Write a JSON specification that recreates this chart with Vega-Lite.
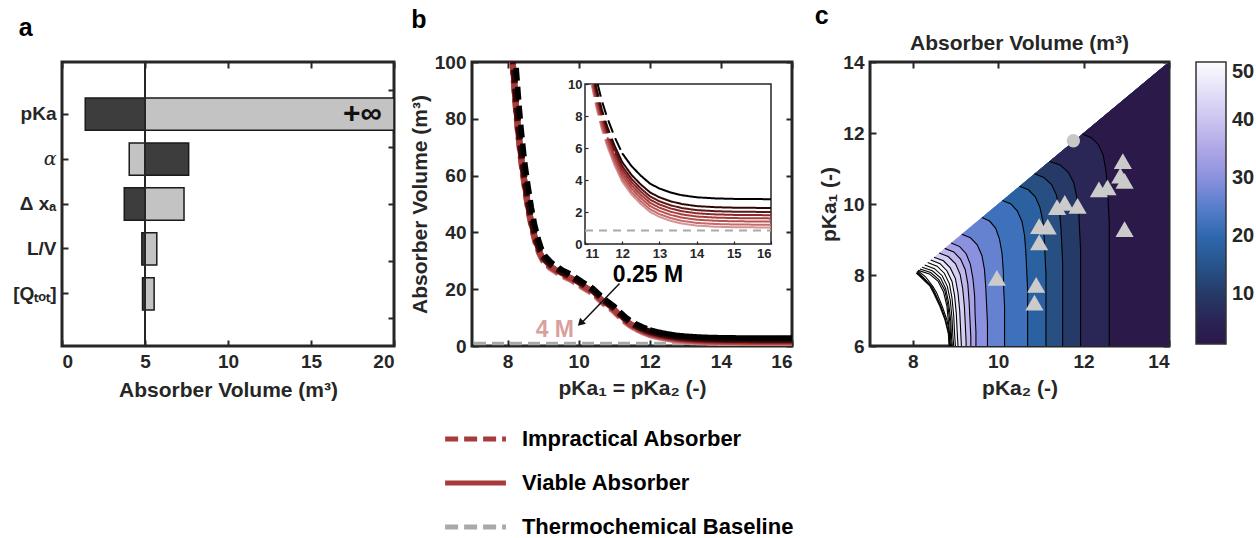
{
 "$schema": "https://vega.github.io/schema/vega-lite/v6.json",
 "background": "white",
 "padding": {"left": 11, "top": 2, "right": 0, "bottom": 0},
 "spacing": 78,
 "bounds": "flush",
 "datasets": {
  "bars": [
   {"p":"pKa","lo":1.4,"hi":5,"s":"d"},{"p":"pKa","lo":5,"hi":20,"s":"l"},
   {"p":"α","lo":4.05,"hi":5,"s":"l"},{"p":"α","lo":5,"hi":7.63,"s":"d"},
   {"p":"Δ xₐ","lo":3.75,"hi":5,"s":"d"},{"p":"Δ xₐ","lo":5,"hi":7.35,"s":"l"},
   {"p":"L/V","lo":4.81,"hi":5,"s":"d"},{"p":"L/V","lo":5,"hi":5.71,"s":"l"},
   {"p":"[Qₜₒₜ]","lo":4.85,"hi":5,"s":"d"},{"p":"[Qₜₒₜ]","lo":5,"hi":5.55,"s":"l"}
  ],
  "leg": [
   {"lab": "Impractical Absorber", "t": "i", "c": "r"},
   {"lab": "Viable Absorber", "t": "v", "c": "r"},
   {"lab": "Thermochemical Baseline", "t": "i", "c": "g"}
  ],
  "cv": [
   {"k":1,"x":8.14,"v":100,"s":"i"},{"k":1,"x":8.2,"v":90,"s":"i"},{"k":1,"x":8.25,"v":82,"s":"i"},{"k":1,"x":8.3,"v":75,"s":"i"},{"k":1,"x":8.4,"v":64,"s":"i"},{"k":1,"x":8.5,"v":55,"s":"i"},{"k":1,"x":8.6,"v":47,"s":"i"},{"k":1,"x":8.7,"v":41,"s":"i"},{"k":1,"x":8.8,"v":36,"s":"i"},{"k":1,"x":8.9,"v":32.5,"s":"i"},{"k":1,"x":9.0,"v":30,"s":"i"},{"k":1,"x":9.2,"v":27.5,"s":"i"},{"k":1,"x":9.5,"v":25,"s":"i"},{"k":1,"x":9.8,"v":23.2,"s":"i"},{"k":1,"x":10.1,"v":20.8,"s":"i"},{"k":1,"x":10.4,"v":18.5,"s":"i"},{"k":1,"x":10.7,"v":15,"s":"i"},{"k":1,"x":11.0,"v":12.2,"s":"i"},{"k":1,"x":11.15,"v":10.3,"s":"i"},{"k":1,"x":11.176,"v":10,"s":"i"},{"k":1,"x":11.3,"v":8.6,"s":"i"},{"k":1,"x":11.45,"v":7.2,"s":"i"},{"k":1,"x":11.6,"v":6.1,"s":"i"},
   {"k":1,"x":11.6,"v":6.1,"s":"v"},{"k":1,"x":11.8,"v":4.9,"s":"v"},{"k":1,"x":12.0,"v":3.9,"s":"v"},{"k":1,"x":12.25,"v":3.1,"s":"v"},{"k":1,"x":12.5,"v":2.5,"s":"v"},{"k":1,"x":12.75,"v":2.0,"s":"v"},{"k":1,"x":13.0,"v":1.7,"s":"v"},{"k":1,"x":13.3,"v":1.45,"s":"v"},{"k":1,"x":13.6,"v":1.28,"s":"v"},{"k":1,"x":14.0,"v":1.15,"s":"v"},{"k":1,"x":14.5,"v":1.08,"s":"v"},{"k":1,"x":15.0,"v":1.05,"s":"v"},{"k":1,"x":16.0,"v":1.03,"s":"v"},

   {"k":2,"x":8.14,"v":100.2,"s":"i"},{"k":2,"x":8.2,"v":90.2,"s":"i"},{"k":2,"x":8.25,"v":82.2,"s":"i"},{"k":2,"x":8.3,"v":75.2,"s":"i"},{"k":2,"x":8.4,"v":64.2,"s":"i"},{"k":2,"x":8.5,"v":55.2,"s":"i"},{"k":2,"x":8.6,"v":47.2,"s":"i"},{"k":2,"x":8.7,"v":41.2,"s":"i"},{"k":2,"x":8.8,"v":36.2,"s":"i"},{"k":2,"x":8.9,"v":32.7,"s":"i"},{"k":2,"x":9.0,"v":30.2,"s":"i"},{"k":2,"x":9.2,"v":27.7,"s":"i"},{"k":2,"x":9.5,"v":25.2,"s":"i"},{"k":2,"x":9.8,"v":23.4,"s":"i"},{"k":2,"x":10.1,"v":21.0,"s":"i"},{"k":2,"x":10.4,"v":18.7,"s":"i"},{"k":2,"x":10.7,"v":15.2,"s":"i"},{"k":2,"x":11.0,"v":12.4,"s":"i"},{"k":2,"x":11.15,"v":10.5,"s":"i"},{"k":2,"x":11.191,"v":10,"s":"i"},{"k":2,"x":11.3,"v":8.77,"s":"i"},{"k":2,"x":11.45,"v":7.37,"s":"i"},{"k":2,"x":11.6,"v":6.27,"s":"i"},
   {"k":2,"x":11.6,"v":6.27,"s":"v"},{"k":2,"x":11.8,"v":5.07,"s":"v"},{"k":2,"x":12.0,"v":4.07,"s":"v"},{"k":2,"x":12.25,"v":3.27,"s":"v"},{"k":2,"x":12.5,"v":2.67,"s":"v"},{"k":2,"x":12.75,"v":2.17,"s":"v"},{"k":2,"x":13.0,"v":1.87,"s":"v"},{"k":2,"x":13.3,"v":1.62,"s":"v"},{"k":2,"x":13.6,"v":1.45,"s":"v"},{"k":2,"x":14.0,"v":1.32,"s":"v"},{"k":2,"x":14.5,"v":1.25,"s":"v"},{"k":2,"x":15.0,"v":1.22,"s":"v"},{"k":2,"x":16.0,"v":1.2,"s":"v"},

   {"k":3,"x":8.14,"v":100.4,"s":"i"},{"k":3,"x":8.2,"v":90.4,"s":"i"},{"k":3,"x":8.25,"v":82.4,"s":"i"},{"k":3,"x":8.3,"v":75.4,"s":"i"},{"k":3,"x":8.4,"v":64.4,"s":"i"},{"k":3,"x":8.5,"v":55.4,"s":"i"},{"k":3,"x":8.6,"v":47.4,"s":"i"},{"k":3,"x":8.7,"v":41.4,"s":"i"},{"k":3,"x":8.8,"v":36.4,"s":"i"},{"k":3,"x":8.9,"v":32.9,"s":"i"},{"k":3,"x":9.0,"v":30.4,"s":"i"},{"k":3,"x":9.2,"v":27.9,"s":"i"},{"k":3,"x":9.5,"v":25.4,"s":"i"},{"k":3,"x":9.8,"v":23.6,"s":"i"},{"k":3,"x":10.1,"v":21.2,"s":"i"},{"k":3,"x":10.4,"v":18.9,"s":"i"},{"k":3,"x":10.7,"v":15.4,"s":"i"},{"k":3,"x":11.0,"v":12.6,"s":"i"},{"k":3,"x":11.15,"v":10.7,"s":"i"},{"k":3,"x":11.209,"v":10,"s":"i"},{"k":3,"x":11.3,"v":8.97,"s":"i"},{"k":3,"x":11.45,"v":7.57,"s":"i"},{"k":3,"x":11.6,"v":6.47,"s":"i"},
   {"k":3,"x":11.6,"v":6.47,"s":"v"},{"k":3,"x":11.8,"v":5.27,"s":"v"},{"k":3,"x":12.0,"v":4.27,"s":"v"},{"k":3,"x":12.25,"v":3.47,"s":"v"},{"k":3,"x":12.5,"v":2.87,"s":"v"},{"k":3,"x":12.75,"v":2.37,"s":"v"},{"k":3,"x":13.0,"v":2.07,"s":"v"},{"k":3,"x":13.3,"v":1.82,"s":"v"},{"k":3,"x":13.6,"v":1.65,"s":"v"},{"k":3,"x":14.0,"v":1.52,"s":"v"},{"k":3,"x":14.5,"v":1.45,"s":"v"},{"k":3,"x":15.0,"v":1.42,"s":"v"},{"k":3,"x":16.0,"v":1.4,"s":"v"},

   {"k":4,"x":8.14,"v":100.6,"s":"i"},{"k":4,"x":8.2,"v":90.6,"s":"i"},{"k":4,"x":8.25,"v":82.6,"s":"i"},{"k":4,"x":8.3,"v":75.6,"s":"i"},{"k":4,"x":8.4,"v":64.6,"s":"i"},{"k":4,"x":8.5,"v":55.6,"s":"i"},{"k":4,"x":8.6,"v":47.6,"s":"i"},{"k":4,"x":8.7,"v":41.6,"s":"i"},{"k":4,"x":8.8,"v":36.6,"s":"i"},{"k":4,"x":8.9,"v":33.1,"s":"i"},{"k":4,"x":9.0,"v":30.6,"s":"i"},{"k":4,"x":9.2,"v":28.1,"s":"i"},{"k":4,"x":9.5,"v":25.6,"s":"i"},{"k":4,"x":9.8,"v":23.8,"s":"i"},{"k":4,"x":10.1,"v":21.4,"s":"i"},{"k":4,"x":10.4,"v":19.1,"s":"i"},{"k":4,"x":10.7,"v":15.6,"s":"i"},{"k":4,"x":11.0,"v":12.8,"s":"i"},{"k":4,"x":11.15,"v":10.9,"s":"i"},{"k":4,"x":11.227,"v":10,"s":"i"},{"k":4,"x":11.3,"v":9.17,"s":"i"},{"k":4,"x":11.45,"v":7.77,"s":"i"},{"k":4,"x":11.6,"v":6.67,"s":"i"},
   {"k":4,"x":11.6,"v":6.67,"s":"v"},{"k":4,"x":11.8,"v":5.47,"s":"v"},{"k":4,"x":12.0,"v":4.47,"s":"v"},{"k":4,"x":12.25,"v":3.67,"s":"v"},{"k":4,"x":12.5,"v":3.07,"s":"v"},{"k":4,"x":12.75,"v":2.57,"s":"v"},{"k":4,"x":13.0,"v":2.27,"s":"v"},{"k":4,"x":13.3,"v":2.02,"s":"v"},{"k":4,"x":13.6,"v":1.85,"s":"v"},{"k":4,"x":14.0,"v":1.72,"s":"v"},{"k":4,"x":14.5,"v":1.65,"s":"v"},{"k":4,"x":15.0,"v":1.62,"s":"v"},{"k":4,"x":16.0,"v":1.6,"s":"v"},

   {"k":5,"x":8.14,"v":100.8,"s":"i"},{"k":5,"x":8.2,"v":90.8,"s":"i"},{"k":5,"x":8.25,"v":82.8,"s":"i"},{"k":5,"x":8.3,"v":75.8,"s":"i"},{"k":5,"x":8.4,"v":64.8,"s":"i"},{"k":5,"x":8.5,"v":55.8,"s":"i"},{"k":5,"x":8.6,"v":47.8,"s":"i"},{"k":5,"x":8.7,"v":41.8,"s":"i"},{"k":5,"x":8.8,"v":36.8,"s":"i"},{"k":5,"x":8.9,"v":33.3,"s":"i"},{"k":5,"x":9.0,"v":30.8,"s":"i"},{"k":5,"x":9.2,"v":28.3,"s":"i"},{"k":5,"x":9.5,"v":25.8,"s":"i"},{"k":5,"x":9.8,"v":24.0,"s":"i"},{"k":5,"x":10.1,"v":21.6,"s":"i"},{"k":5,"x":10.4,"v":19.3,"s":"i"},{"k":5,"x":10.7,"v":15.8,"s":"i"},{"k":5,"x":11.0,"v":13.0,"s":"i"},{"k":5,"x":11.15,"v":11.1,"s":"i"},{"k":5,"x":11.244,"v":10,"s":"i"},{"k":5,"x":11.3,"v":9.37,"s":"i"},{"k":5,"x":11.45,"v":7.97,"s":"i"},{"k":5,"x":11.6,"v":6.87,"s":"i"},{"k":5,"x":11.8,"v":5.67,"s":"i"},
   {"k":5,"x":11.8,"v":5.67,"s":"v"},{"k":5,"x":12.0,"v":4.67,"s":"v"},{"k":5,"x":12.25,"v":3.87,"s":"v"},{"k":5,"x":12.5,"v":3.27,"s":"v"},{"k":5,"x":12.75,"v":2.77,"s":"v"},{"k":5,"x":13.0,"v":2.47,"s":"v"},{"k":5,"x":13.3,"v":2.22,"s":"v"},{"k":5,"x":13.6,"v":2.05,"s":"v"},{"k":5,"x":14.0,"v":1.92,"s":"v"},{"k":5,"x":14.5,"v":1.85,"s":"v"},{"k":5,"x":15.0,"v":1.82,"s":"v"},{"k":5,"x":16.0,"v":1.8,"s":"v"},

   {"k":6,"x":8.14,"v":101,"s":"i"},{"k":6,"x":8.2,"v":91,"s":"i"},{"k":6,"x":8.25,"v":83,"s":"i"},{"k":6,"x":8.3,"v":76,"s":"i"},{"k":6,"x":8.4,"v":65,"s":"i"},{"k":6,"x":8.5,"v":56,"s":"i"},{"k":6,"x":8.6,"v":48,"s":"i"},{"k":6,"x":8.7,"v":42,"s":"i"},{"k":6,"x":8.8,"v":37,"s":"i"},{"k":6,"x":8.9,"v":33.5,"s":"i"},{"k":6,"x":9.0,"v":31,"s":"i"},{"k":6,"x":9.2,"v":28.5,"s":"i"},{"k":6,"x":9.5,"v":26,"s":"i"},{"k":6,"x":9.8,"v":24.2,"s":"i"},{"k":6,"x":10.1,"v":21.8,"s":"i"},{"k":6,"x":10.4,"v":19.5,"s":"i"},{"k":6,"x":10.7,"v":16,"s":"i"},{"k":6,"x":11.0,"v":13.2,"s":"i"},{"k":6,"x":11.15,"v":11.3,"s":"i"},{"k":6,"x":11.262,"v":10,"s":"i"},{"k":6,"x":11.3,"v":9.57,"s":"i"},{"k":6,"x":11.45,"v":8.17,"s":"i"},{"k":6,"x":11.6,"v":7.07,"s":"i"},{"k":6,"x":11.8,"v":5.87,"s":"i"},
   {"k":6,"x":11.8,"v":5.87,"s":"v"},{"k":6,"x":12.0,"v":4.87,"s":"v"},{"k":6,"x":12.25,"v":4.07,"s":"v"},{"k":6,"x":12.5,"v":3.47,"s":"v"},{"k":6,"x":12.75,"v":2.97,"s":"v"},{"k":6,"x":13.0,"v":2.67,"s":"v"},{"k":6,"x":13.3,"v":2.42,"s":"v"},{"k":6,"x":13.6,"v":2.25,"s":"v"},{"k":6,"x":14.0,"v":2.12,"s":"v"},{"k":6,"x":14.5,"v":2.05,"s":"v"},{"k":6,"x":15.0,"v":2.02,"s":"v"},{"k":6,"x":16.0,"v":2.0,"s":"v"},

   {"k":7,"x":8.16,"v":101.2,"s":"i"},{"k":7,"x":8.22,"v":91.2,"s":"i"},{"k":7,"x":8.27,"v":83.2,"s":"i"},{"k":7,"x":8.32,"v":76.2,"s":"i"},{"k":7,"x":8.42,"v":65.2,"s":"i"},{"k":7,"x":8.52,"v":56.2,"s":"i"},{"k":7,"x":8.62,"v":48.2,"s":"i"},{"k":7,"x":8.72,"v":42.2,"s":"i"},{"k":7,"x":8.82,"v":37.2,"s":"i"},{"k":7,"x":8.92,"v":33.7,"s":"i"},{"k":7,"x":9.02,"v":31.2,"s":"i"},{"k":7,"x":9.22,"v":28.7,"s":"i"},{"k":7,"x":9.51,"v":26.2,"s":"i"},{"k":7,"x":9.8,"v":24.4,"s":"i"},{"k":7,"x":10.1,"v":22.0,"s":"i"},{"k":7,"x":10.4,"v":19.7,"s":"i"},{"k":7,"x":10.7,"v":16.2,"s":"i"},{"k":7,"x":11.0,"v":13.4,"s":"i"},{"k":7,"x":11.15,"v":11.5,"s":"i"},{"k":7,"x":11.284,"v":10,"s":"i"},{"k":7,"x":11.3,"v":9.82,"s":"i"},{"k":7,"x":11.45,"v":8.42,"s":"i"},{"k":7,"x":11.6,"v":7.32,"s":"i"},{"k":7,"x":11.8,"v":6.12,"s":"i"},
   {"k":7,"x":11.8,"v":6.12,"s":"v"},{"k":7,"x":12.0,"v":5.12,"s":"v"},{"k":7,"x":12.25,"v":4.32,"s":"v"},{"k":7,"x":12.5,"v":3.72,"s":"v"},{"k":7,"x":12.75,"v":3.22,"s":"v"},{"k":7,"x":13.0,"v":2.92,"s":"v"},{"k":7,"x":13.3,"v":2.67,"s":"v"},{"k":7,"x":13.6,"v":2.5,"s":"v"},{"k":7,"x":14.0,"v":2.37,"s":"v"},{"k":7,"x":14.5,"v":2.3,"s":"v"},{"k":7,"x":15.0,"v":2.27,"s":"v"},{"k":7,"x":16.0,"v":2.25,"s":"v"},

   {"k":8,"x":8.22,"v":101.8,"s":"i"},{"k":8,"x":8.28,"v":91.8,"s":"i"},{"k":8,"x":8.33,"v":83.8,"s":"i"},{"k":8,"x":8.38,"v":76.8,"s":"i"},{"k":8,"x":8.47,"v":65.8,"s":"i"},{"k":8,"x":8.57,"v":56.8,"s":"i"},{"k":8,"x":8.67,"v":48.8,"s":"i"},{"k":8,"x":8.76,"v":42.8,"s":"i"},{"k":8,"x":8.86,"v":37.8,"s":"i"},{"k":8,"x":8.95,"v":34.3,"s":"i"},{"k":8,"x":9.05,"v":31.8,"s":"i"},{"k":8,"x":9.24,"v":29.3,"s":"i"},{"k":8,"x":9.53,"v":26.8,"s":"i"},{"k":8,"x":9.82,"v":25.0,"s":"i"},{"k":8,"x":10.1,"v":22.6,"s":"i"},{"k":8,"x":10.4,"v":20.3,"s":"i"},{"k":8,"x":10.7,"v":16.8,"s":"i"},{"k":8,"x":11.0,"v":14.0,"s":"i"},{"k":8,"x":11.15,"v":12.1,"s":"i"},{"k":8,"x":11.3,"v":10.37,"s":"i"},{"k":8,"x":11.34,"v":10,"s":"i"},{"k":8,"x":11.45,"v":8.97,"s":"i"},{"k":8,"x":11.6,"v":7.87,"s":"i"},{"k":8,"x":11.8,"v":6.67,"s":"i"},{"k":8,"x":12.0,"v":5.67,"s":"i"},
   {"k":8,"x":12.0,"v":5.67,"s":"v"},{"k":8,"x":12.25,"v":4.87,"s":"v"},{"k":8,"x":12.5,"v":4.27,"s":"v"},{"k":8,"x":12.75,"v":3.77,"s":"v"},{"k":8,"x":13.0,"v":3.47,"s":"v"},{"k":8,"x":13.3,"v":3.22,"s":"v"},{"k":8,"x":13.6,"v":3.05,"s":"v"},{"k":8,"x":14.0,"v":2.92,"s":"v"},{"k":8,"x":14.5,"v":2.85,"s":"v"},{"k":8,"x":15.0,"v":2.82,"s":"v"},{"k":8,"x":16.0,"v":2.8,"s":"v"}
  ],
  "bd": [
   {"x":8.84,"y":6},{"x":8.82,"y":6.36},{"x":8.74,"y":6.74},{"x":8.62,"y":7.12},{"x":8.47,"y":7.5},{"x":8.39,"y":7.68},{"x":8.2,"y":7.9},{"x":8.07,"y":8.05},{"x":14,"y":14}
  ],
  "ct": [
   {"v":74,"x":8.86,"y":6},{"v":74,"x":8.84,"y":6.36},{"v":74,"x":8.77,"y":6.74},{"v":74,"x":8.66,"y":7.12},{"v":74,"x":8.52,"y":7.5},{"v":74,"x":8.44,"y":7.68},{"v":74,"x":8.26,"y":7.92},{"v":74,"x":8.1,"y":8.1},{"v":74,"x":14,"y":14,"e":1},
   {"v":70,"x":8.87,"y":6},{"v":70,"x":8.86,"y":6.36},{"v":70,"x":8.80,"y":6.74},{"v":70,"x":8.69,"y":7.12},{"v":70,"x":8.56,"y":7.5},{"v":70,"x":8.47,"y":7.68},{"v":70,"x":8.3,"y":7.95},{"v":70,"x":8.12,"y":8.12},{"v":70,"x":14,"y":14,"e":1},
   {"v":66,"x":8.89,"y":6},{"v":66,"x":8.87,"y":6.13},{"v":66,"x":8.84,"y":6.63},{"v":66,"x":8.80,"y":7.13},{"v":66,"x":8.72,"y":7.53},{"v":66,"x":8.59,"y":7.83},{"v":66,"x":8.39,"y":8.03},{"v":66,"x":8.13,"y":8.13},{"v":66,"x":14,"y":14,"e":1},
   {"v":62,"x":8.91,"y":6},{"v":62,"x":8.89,"y":6.17},{"v":62,"x":8.87,"y":6.67},{"v":62,"x":8.82,"y":7.17},{"v":62,"x":8.75,"y":7.57},{"v":62,"x":8.61,"y":7.87},{"v":62,"x":8.42,"y":8.07},{"v":62,"x":8.17,"y":8.17},{"v":62,"x":14,"y":14,"e":1},
   {"v":58,"x":8.93,"y":6},{"v":58,"x":8.91,"y":6.22},{"v":58,"x":8.89,"y":6.72},{"v":58,"x":8.84,"y":7.22},{"v":58,"x":8.77,"y":7.62},{"v":58,"x":8.65,"y":7.92},{"v":58,"x":8.46,"y":8.12},{"v":58,"x":8.22,"y":8.22},{"v":58,"x":14,"y":14,"e":1},
   {"v":54,"x":8.96,"y":6},{"v":54,"x":8.94,"y":6.28},{"v":54,"x":8.92,"y":6.78},{"v":54,"x":8.88,"y":7.28},{"v":54,"x":8.81,"y":7.68},{"v":54,"x":8.69,"y":7.98},{"v":54,"x":8.51,"y":8.18},{"v":54,"x":8.28,"y":8.28},{"v":54,"x":14,"y":14,"e":1},
   {"v":50,"x":9.0,"y":6},{"v":50,"x":8.98,"y":6.35},{"v":50,"x":8.96,"y":6.85},{"v":50,"x":8.92,"y":7.35},{"v":50,"x":8.86,"y":7.75},{"v":50,"x":8.74,"y":8.05},{"v":50,"x":8.57,"y":8.25},{"v":50,"x":8.35,"y":8.35},{"v":50,"x":14,"y":14,"e":1},
   {"v":46,"x":9.06,"y":6},{"v":46,"x":9.04,"y":6.42},{"v":46,"x":9.02,"y":6.92},{"v":46,"x":8.98,"y":7.42},{"v":46,"x":8.92,"y":7.82},{"v":46,"x":8.80,"y":8.12},{"v":46,"x":8.64,"y":8.32},{"v":46,"x":8.42,"y":8.42},{"v":46,"x":14,"y":14,"e":1},
   {"v":42,"x":9.14,"y":6},{"v":42,"x":9.12,"y":6.5},{"v":42,"x":9.10,"y":7.0},{"v":42,"x":9.06,"y":7.5},{"v":42,"x":9.0,"y":7.9},{"v":42,"x":8.88,"y":8.2},{"v":42,"x":8.72,"y":8.4},{"v":42,"x":8.5,"y":8.5},{"v":42,"x":14,"y":14,"e":1},
   {"v":38,"x":9.25,"y":6},{"v":38,"x":9.25,"y":6.12},{"v":38,"x":9.23,"y":6.62},{"v":38,"x":9.21,"y":7.12},{"v":38,"x":9.17,"y":7.62},{"v":38,"x":9.11,"y":8.02},{"v":38,"x":9.0,"y":8.32},{"v":38,"x":8.83,"y":8.52},{"v":38,"x":8.62,"y":8.62},{"v":38,"x":14,"y":14,"e":1},
   {"v":34,"x":9.36,"y":6},{"v":34,"x":9.36,"y":6.25},{"v":34,"x":9.34,"y":6.75},{"v":34,"x":9.32,"y":7.25},{"v":34,"x":9.29,"y":7.75},{"v":34,"x":9.23,"y":8.15},{"v":34,"x":9.12,"y":8.45},{"v":34,"x":8.96,"y":8.65},{"v":34,"x":8.75,"y":8.75},{"v":34,"x":14,"y":14,"e":1},
   {"v":30,"x":9.48,"y":6},{"v":30,"x":9.48,"y":6.4},{"v":30,"x":9.46,"y":6.9},{"v":30,"x":9.45,"y":7.4},{"v":30,"x":9.41,"y":7.9},{"v":30,"x":9.35,"y":8.3},{"v":30,"x":9.25,"y":8.6},{"v":30,"x":9.10,"y":8.8},{"v":30,"x":8.9,"y":8.9},{"v":30,"x":14,"y":14,"e":1},
   {"v":26,"x":9.75,"y":6},{"v":26,"x":9.75,"y":6.65},{"v":26,"x":9.73,"y":7.15},{"v":26,"x":9.71,"y":7.65},{"v":26,"x":9.68,"y":8.15},{"v":26,"x":9.62,"y":8.55},{"v":26,"x":9.51,"y":8.85},{"v":26,"x":9.35,"y":9.05},{"v":26,"x":9.15,"y":9.15},{"v":26,"x":14,"y":14,"e":1},
   {"v":22,"x":10.15,"y":6},{"v":22,"x":10.15,"y":7.12},{"v":22,"x":10.13,"y":7.62},{"v":22,"x":10.12,"y":8.12},{"v":22,"x":10.09,"y":8.62},{"v":22,"x":10.03,"y":9.02},{"v":22,"x":9.94,"y":9.32},{"v":22,"x":9.80,"y":9.52},{"v":22,"x":9.62,"y":9.62},{"v":22,"x":14,"y":14,"e":1},
   {"v":18,"x":10.69,"y":6},{"v":18,"x":10.69,"y":7.6},{"v":18,"x":10.67,"y":8.1},{"v":18,"x":10.65,"y":8.6},{"v":18,"x":10.62,"y":9.1},{"v":18,"x":10.56,"y":9.5},{"v":18,"x":10.45,"y":9.8},{"v":18,"x":10.30,"y":10.0},{"v":18,"x":10.1,"y":10.1},{"v":18,"x":14,"y":14,"e":1},
   {"v":14,"x":11.12,"y":6},{"v":14,"x":11.12,"y":8.0},{"v":14,"x":11.10,"y":8.5},{"v":14,"x":11.08,"y":9.0},{"v":14,"x":11.05,"y":9.5},{"v":14,"x":10.98,"y":9.9},{"v":14,"x":10.87,"y":10.2},{"v":14,"x":10.71,"y":10.4},{"v":14,"x":10.5,"y":10.5},{"v":14,"x":14,"y":14,"e":1},
   {"v":10,"x":11.51,"y":6},{"v":10,"x":11.51,"y":8.35},{"v":10,"x":11.49,"y":8.85},{"v":10,"x":11.47,"y":9.35},{"v":10,"x":11.43,"y":9.85},{"v":10,"x":11.365,"y":10.25},{"v":10,"x":11.25,"y":10.55},{"v":10,"x":11.07,"y":10.75},{"v":10,"x":10.85,"y":10.85},{"v":10,"x":14,"y":14,"e":1},
   {"v":6,"x":11.93,"y":6},{"v":6,"x":11.93,"y":8.7},{"v":6,"x":11.91,"y":9.2},{"v":6,"x":11.89,"y":9.7},{"v":6,"x":11.84,"y":10.2},{"v":6,"x":11.77,"y":10.6},{"v":6,"x":11.64,"y":10.9},{"v":6,"x":11.45,"y":11.1},{"v":6,"x":11.2,"y":11.2},{"v":6,"x":14,"y":14,"e":1},
   {"v":2,"x":12.6,"y":6},{"v":2,"x":12.6,"y":9.47},{"v":2,"x":12.58,"y":9.97},{"v":2,"x":12.56,"y":10.47},{"v":2,"x":12.52,"y":10.97},{"v":2,"x":12.46,"y":11.37},{"v":2,"x":12.35,"y":11.67},{"v":2,"x":12.18,"y":11.87},{"v":2,"x":11.97,"y":11.97},{"v":2,"x":14,"y":14,"e":1}
  ],
  "pts": [
   {"x":9.97,"y":7.92,"m":"t"},{"x":10.89,"y":7.72,"m":"t"},{"x":10.85,"y":7.22,"m":"t"},{"x":10.96,"y":8.92,"m":"t"},{"x":10.96,"y":9.38,"m":"t"},
   {"x":11.16,"y":9.36,"m":"t"},{"x":11.38,"y":9.91,"m":"t"},{"x":11.56,"y":10.03,"m":"t"},{"x":11.86,"y":9.95,"m":"t"},{"x":12.36,"y":10.41,"m":"t"},
   {"x":12.56,"y":10.47,"m":"t"},{"x":12.92,"y":11.21,"m":"t"},{"x":12.86,"y":10.8,"m":"t"},{"x":12.96,"y":10.65,"m":"t"},{"x":12.96,"y":9.29,"m":"t"},
   {"x":11.76,"y":11.78,"m":"c"}
  ]
 },
 "hconcat": [
  {
   "width": 332, "height": 284,
   "title": {"text": "a", "offset": 20, "dx": 6},
   "layer": [
    {
     "data": {"name": "bars"},
     "layer": [
      {
       "transform": [{"filter": "datum.s === 'd'"}],
       "mark": {"type": "bar", "fill": "#3d3d3d", "stroke": "#1a1a1a", "strokeWidth": 1.5},
       "encoding": {
        "y": {"field": "p", "type": "nominal",
              "scale": {"domain": ["pKa","α","Δ xₐ","L/V","[Qₜₒₜ]"], "paddingInner": 0.28, "paddingOuter": 0.8},
              "axis": {"title": null,
                       "labelFont": {"condition": {"test": "datum.value === 'α'", "value": "DejaVu Serif"}, "value": "Liberation Sans"},
                       "labelFontStyle": {"condition": {"test": "datum.value === 'α'", "value": "italic"}, "value": "normal"},
                       "labelFontWeight": {"condition": {"test": "datum.value === 'α'", "value": "normal"}, "value": "bold"}}},
        "x": {"field": "lo", "type": "quantitative", "scale": {"domain": [0, 20], "nice": false},
              "axis": {"values": [0,5,10,15,20], "title": "Absorber Volume (m³)", "titlePadding": 8}},
        "x2": {"field": "hi"}
       }
      },
      {
       "transform": [{"filter": "datum.s === 'l'"}],
       "mark": {"type": "bar", "fill": "#c3c3c3", "stroke": "#1a1a1a", "strokeWidth": 1.5},
       "encoding": {
        "y": {"field": "p", "type": "nominal"},
        "x": {"field": "lo", "type": "quantitative"},
        "x2": {"field": "hi"}
       }
      },
      {
       "data": {"values": [{}]},
       "mark": {"type": "rule", "stroke": "#262626", "strokeWidth": 2},
       "encoding": {"x": {"datum": 5, "type": "quantitative"}}
      },
      {
       "data": {"values": [{}]},
       "mark": {"type": "text", "fontSize": 30, "fontWeight": "bold", "font": "Liberation Sans", "color": "#111111"},
       "encoding": {"x": {"datum": 18.1, "type": "quantitative"}, "y": {"datum": "pKa", "type": "nominal"}, "text": {"value": "+∞"}}
      }
     ]
    },
    {
     "data": {"values": [{}]},
     "mark": {"type": "point", "opacity": 0},
     "encoding": {
      "x": {"datum": 0, "type": "quantitative", "scale": {"domain": [0, 20], "nice": false},
            "axis": {"orient": "top", "labels": false, "title": null, "values": [0,5,10,15,20]}},
      "y": {"datum": "pKa", "type": "nominal",
            "scale": {"domain": ["pKa","α","Δ xₐ","L/V","[Qₜₒₜ]"], "paddingInner": 0.28, "paddingOuter": 0.8},
            "axis": {"orient": "right", "labels": false, "title": null}}
     }
    }
   ],
   "resolve": {"scale": {"x": "independent", "y": "independent"}, "axis": {"x": "independent", "y": "independent"}}
  },
  {
   "width": 320, "height": 284,
   "title": {"text": "b", "offset": 20, "dx": 2},
   "data": {"values": [{}]},
   "layer": [
    {
     "layer": [
      {
       "mark": {"type": "rule", "stroke": "#a9a9a9", "strokeWidth": 3.5, "strokeDash": [12, 6]},
       "encoding": {"y": {"datum": 0.85, "type": "quantitative", "scale": {"domain": [0, 100], "nice": false},
                          "axis": {"values": [0,20,40,60,80,100], "title": "Absorber Volume (m³)", "titlePadding": 4}}}
      },
      {
       "data": {"name": "cv"},
       "transform": [{"filter": "datum.k <= 4"}],
       "mark": {"type": "line", "clip": true},
       "encoding": {
        "x": {"field": "x", "type": "quantitative", "scale": {"domain": [7, 16], "nice": false, "zero": false},
              "axis": {"values": [8,10,12,14,16], "title": "pKa₁ = pKa₂ (-)", "titlePadding": 6}},
        "y": {"field": "v", "type": "quantitative"},
        "color": {"field": "k", "type": "ordinal",
                  "scale": {"domain": [1,2,3,4,5,6,7,8], "range": ["#d49494","#c86a6a","#b85050","#a83c3c","#8c2a2a","#5e1616","#2e0606","#000000"]},
                  "legend": null},
        "strokeWidth": {"field": "k", "type": "ordinal",
                        "scale": {"domain": [1,2,3,4,5,6,7,8], "range": [6.5, 5.5, 5, 4.5, 3.5, 2.5, 2, 2]}, "legend": null},
        "strokeDash": {"field": "s", "type": "nominal", "scale": {"domain": ["i","v"], "range": [[13,6],[1,0]]}, "legend": null}
       }
      },
      {
       "data": {"name": "cv"},
       "transform": [{"filter": "datum.k >= 5"}],
       "mark": {"type": "line", "clip": true, "strokeDashOffset": 8},
       "encoding": {
        "x": {"field": "x", "type": "quantitative"},
        "y": {"field": "v", "type": "quantitative"},
        "color": {"field": "k", "type": "ordinal"},
        "strokeWidth": {"field": "k", "type": "ordinal"},
        "strokeDash": {"field": "s", "type": "nominal"}
       }
      },
      {
       "mark": {"type": "rule", "stroke": "#111111", "strokeWidth": 1.5},
       "encoding": {"x": {"datum": 11.15, "type": "quantitative"}, "y": {"datum": 22, "type": "quantitative"},
                    "x2": {"datum": 10.12}, "y2": {"datum": 8.6}}
      },
      {
       "mark": {"type": "point", "shape": "triangle-down", "angle": 45, "filled": true, "color": "#111111", "size": 70, "opacity": 1},
       "encoding": {"x": {"datum": 10.05, "type": "quantitative"}, "y": {"datum": 8.0, "type": "quantitative"}}
      },
      {
       "mark": {"type": "text", "fontSize": 23, "fontWeight": "bold", "font": "Liberation Sans", "color": "#000000"},
       "encoding": {"x": {"datum": 11.95, "type": "quantitative"}, "y": {"datum": 25.0, "type": "quantitative"}, "text": {"value": "0.25 M"}}
      },
      {
       "mark": {"type": "text", "fontSize": 23, "fontWeight": "bold", "font": "Liberation Sans", "color": "#d9a0a0"},
       "encoding": {"x": {"datum": 9.33, "type": "quantitative"}, "y": {"datum": 5.6, "type": "quantitative"}, "text": {"value": "4 M"}}
      }
     ]
    },
    {
     "mark": {"type": "point", "opacity": 0},
     "encoding": {
      "x": {"datum": 7, "type": "quantitative", "scale": {"domain": [7, 16], "nice": false, "zero": false},
            "axis": {"orient": "top", "labels": false, "title": null, "values": [8,10,12,14,16]}},
      "y": {"datum": 0, "type": "quantitative", "scale": {"domain": [0, 100], "nice": false},
            "axis": {"orient": "right", "labels": false, "title": null, "values": [0,20,40,60,80,100]}}
     }
    },
    {
     "layer": [
      {
       "mark": {"type": "rect", "fill": "#ffffff", "stroke": "#262626", "strokeWidth": 1.5},
       "encoding": {
        "x": {"datum": 11, "type": "quantitative", "scale": {"domain": [11, 16], "range": [113, 299], "nice": false, "zero": false},
              "axis": {"orient": "bottom", "offset": -102, "values": [11,12,13,14,15,16], "format": "d", "title": null, "labelFontSize": 13, "tickSize": -3, "tickWidth": 1.2, "labelPadding": 6, "zindex": 1}},
        "x2": {"datum": 16},
        "y": {"datum": 0, "type": "quantitative", "scale": {"domain": [0, 10], "range": [182, 22], "nice": false, "zero": false},
              "axis": {"orient": "left", "offset": -113, "values": [0,2,4,6,8,10], "format": "d", "title": null, "labelFontSize": 13, "tickSize": -3, "tickWidth": 1.2, "labelPadding": 6, "zindex": 1}},
        "y2": {"datum": 10}
       }
      },
      {
       "mark": {"type": "rule", "stroke": "#a9a9a9", "strokeWidth": 2, "strokeDash": [8, 6]},
       "encoding": {"x": {"datum": 11, "type": "quantitative"}, "x2": {"datum": 16}, "y": {"datum": 0.85, "type": "quantitative"}}
      },
      {
       "data": {"name": "cv"},
       "transform": [{"filter": "datum.x >= 11 && datum.v <= 10"}],
       "mark": {"type": "line", "strokeWidth": 2},
       "encoding": {
        "x": {"field": "x", "type": "quantitative"},
        "y": {"field": "v", "type": "quantitative"},
        "color": {"field": "k", "type": "ordinal"},
        "strokeDash": {"field": "s", "type": "nominal"}
       }
      }
     ]
    },
    {
     "data": {"name": "leg"},
     "encoding": {
      "y": {"field": "lab", "type": "nominal",
            "scale": {"type": "point", "domain": ["Impractical Absorber", "Viable Absorber", "Thermochemical Baseline"], "range": [377, 465], "padding": 0},
            "axis": null}
     },
     "layer": [
      {
       "mark": {"type": "rule", "strokeWidth": 5},
       "encoding": {
        "x": {"datum": -0.84, "type": "quantitative", "scale": {"domain": [0, 10], "nice": false, "zero": false}, "axis": null},
        "x2": {"datum": 1.06},
        "stroke": {"field": "c", "type": "nominal", "scale": {"domain": ["r","g"], "range": ["#a83a3a","#a9a9a9"]}, "legend": null},
        "strokeDash": {"field": "t", "type": "nominal"}
       }
      },
      {
       "mark": {"type": "text", "align": "left", "baseline": "middle", "fontSize": 22, "fontWeight": "bold", "font": "Liberation Sans", "color": "#000000"},
       "encoding": {"x": {"datum": 1.56, "type": "quantitative"}, "text": {"field": "lab"}}
      }
     ]
    }
   ],
   "resolve": {"scale": {"x": "independent", "y": "independent"}, "axis": {"x": "independent", "y": "independent"}}
  },
  {
   "width": 299, "height": 284,
   "title": {"text": "c", "offset": 4, "dx": -4},
   "data": {"values": [{}]},
   "layer": [
    {
     "layer": [
      {
       "data": {"name": "bd"},
       "mark": {"type": "area", "orient": "horizontal", "fill": "#0d0d0d"},
       "encoding": {
        "y": {"field": "y", "type": "quantitative", "scale": {"domain": [6, 14], "nice": false, "zero": false},
              "axis": {"values": [6,8,10,12,14], "title": "pKa₁ (-)", "titlePadding": 3}},
        "x": {"field": "x", "type": "quantitative", "scale": {"domain": [7, 14], "nice": false, "zero": false},
              "axis": {"values": [8,10,12,14], "title": "pKa₂ (-)", "titlePadding": 6}},
        "x2": {"datum": 14}
       }
      },
      {
       "data": {"name": "ct"},
       "mark": {"type": "area", "orient": "horizontal"},
       "encoding": {
        "y": {"field": "y", "type": "quantitative"},
        "x": {"field": "x", "type": "quantitative"},
        "x2": {"datum": 14},
        "detail": {"field": "v", "type": "quantitative"},
        "fill": {"field": "v", "type": "quantitative",
                 "scale": {"domain": [1.4, 4, 8, 12, 16, 20, 24, 28, 32, 36, 40, 45, 50],
                           "range": ["#2b1748","#2b1f50","#282f5e","#254470","#275a94","#2f68ae","#4a7ac8","#7a8ad8","#9c98e4","#b4ace8","#cbc4f0","#e4e0f8","#fcfcff"],
                           "clamp": true},
                 "legend": {"title": null, "values": [10,20,30,40,50], "gradientLength": 282, "gradientThickness": 30,
                            "labelFontSize": 20, "labelFont": "Liberation Sans", "labelFontWeight": "bold", "labelColor": "#262626",
                            "gradientStrokeColor": "#333333", "gradientStrokeWidth": 1.5, "offset": 24, "labelOffset": 6,
                            "labelOverlap": false, "direction": "vertical", "orient": "right"}}
       }
      },
      {
       "data": {"name": "ct"},
       "transform": [{"filter": "!datum.e"}],
       "mark": {"type": "line", "stroke": "#000000", "strokeWidth": 1.1},
       "encoding": {
        "x": {"field": "x", "type": "quantitative"},
        "y": {"field": "y", "type": "quantitative"},
        "detail": {"field": "v", "type": "quantitative"},
        "order": {"field": "y", "type": "quantitative"}
       }
      },
      {
       "data": {"name": "pts"},
       "transform": [{"filter": "datum.m === 't'"}],
       "mark": {"type": "point", "shape": "triangle-up", "filled": true, "color": "#cbcbcb", "size": 330, "opacity": 1},
       "encoding": {"x": {"field": "x", "type": "quantitative"}, "y": {"field": "y", "type": "quantitative"}}
      },
      {
       "data": {"name": "pts"},
       "transform": [{"filter": "datum.m === 'c'"}],
       "mark": {"type": "point", "shape": "circle", "filled": true, "color": "#c8c8c8", "size": 180, "opacity": 1},
       "encoding": {"x": {"field": "x", "type": "quantitative"}, "y": {"field": "y", "type": "quantitative"}}
      },
      {
       "mark": {"type": "text", "fontSize": 21, "fontWeight": "bold", "font": "Liberation Sans", "color": "#262626", "baseline": "alphabetic", "dy": -12},
       "encoding": {"x": {"datum": 10.5, "type": "quantitative"}, "y": {"datum": 14, "type": "quantitative"}, "text": {"value": "Absorber Volume (m³)"}}
      }
     ]
    },
    {
     "mark": {"type": "point", "opacity": 0},
     "encoding": {
      "x": {"datum": 7, "type": "quantitative", "scale": {"domain": [7, 14], "nice": false, "zero": false},
            "axis": {"orient": "top", "labels": false, "title": null, "values": [8,10,12,14]}},
      "y": {"datum": 6, "type": "quantitative", "scale": {"domain": [6, 14], "nice": false, "zero": false},
            "axis": {"orient": "right", "labels": false, "title": null, "values": [6,8,10,12,14]}}
     }
    }
   ],
   "resolve": {"scale": {"x": "independent", "y": "independent"}, "axis": {"x": "independent", "y": "independent"}}
  }
 ],
 "config": {
  "font": "Liberation Sans",
  "view": {"stroke": "#262626", "strokeWidth": 3},
  "axis": {"domain": false, "grid": false, "labelFont": "Liberation Sans", "labelFontWeight": "bold", "labelFontSize": 19,
           "labelColor": "#262626", "titleFont": "Liberation Sans", "titleFontWeight": "bold", "titleFontSize": 21,
           "titleColor": "#262626", "tickColor": "#262626", "tickWidth": 2, "tickSize": -6, "labelPadding": 12},
  "title": {"anchor": "start", "frame": "bounds", "font": "Liberation Sans", "fontSize": 25, "fontWeight": "bold", "color": "#000000"}
 }
}
